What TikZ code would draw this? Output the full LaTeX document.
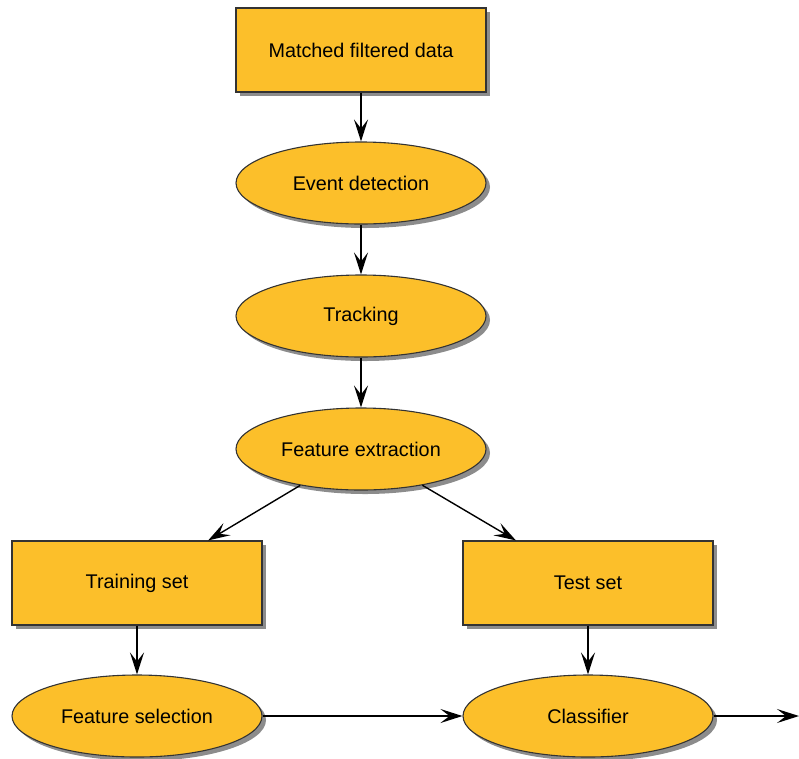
\documentclass[tikz,border=0pt]{standalone}
\usepackage{fontspec}
\setmainfont{Liberation Sans}
\usetikzlibrary{shapes.geometric,arrows.meta,shadows}
\definecolor{boxfill}{HTML}{FCBF2A}
\definecolor{boxline}{HTML}{333333}
\tikzset{
  base/.style={draw=boxline, line width=1.1pt, fill=boxfill, font=\fontsize{19.8}{23}\selectfont,
    drop shadow={shadow xshift=4pt, shadow yshift=-4pt, fill=black, opacity=0.45}},
  rectbox/.style={base, rectangle, minimum width=250pt, minimum height=84pt, inner sep=0pt},
  ellbox/.style={base, ellipse, minimum width=250pt, minimum height=82pt, inner sep=0pt},
  conn/.style={-{Stealth[length=22pt,width=14pt,inset=9pt]}, line width=1.4pt, black}
}
\begin{document}
\begin{tikzpicture}[x=1pt,y=-1pt]
\useasboundingbox (0,0) rectangle (799,758);
\node[rectbox] (mfd) at (361,50) {Matched filtered data};
\node[ellbox] (ed) at (361,183) {Event detection};
\node[ellbox] (tr) at (361,316) {Tracking};
\node[ellbox] (fe) at (361,449) {Feature extraction};
\node[rectbox] (train) at (137,583) {Training set};
\node[rectbox] (test) at (588,583) {Test set};
\node[ellbox] (fs) at (137,716) {Feature selection};
\node[ellbox] (cl) at (588,716) {Classifier};
\coordinate (out) at (799,716);
\draw[conn] (mfd) -- (ed);
\draw[conn] (ed) -- (tr);
\draw[conn] (tr) -- (fe);
\draw[conn] (fe) -- (train);
\draw[conn] (fe) -- (test);
\draw[conn] (train) -- (fs);
\draw[conn] (test) -- (cl);
\draw[conn] (fs) -- (cl);
\draw[conn] (cl) -- (out);
\end{tikzpicture}
\end{document}
